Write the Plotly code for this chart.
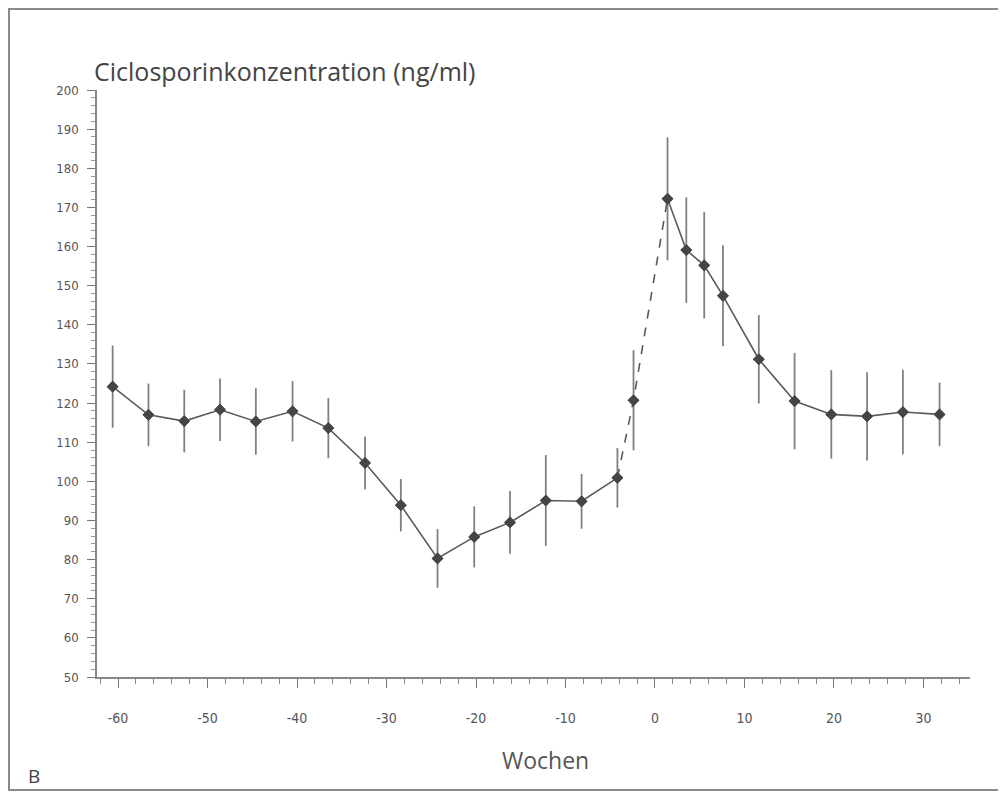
import plotly.graph_objects as go

weeks = [-60.6, -56.6, -52.6, -48.6, -44.6, -40.5, -36.5, -32.4, -28.4, -24.3, -20.2,
         -16.2, -12.2, -8.2, -4.2, -2.4, 1.4, 3.5, 5.5, 7.6, 11.6, 15.6, 19.7, 23.7, 27.7, 31.8]
conc = [124.2, 117.0, 115.4, 118.3, 115.3, 117.9, 113.6, 104.7, 93.9, 80.3, 85.8,
        89.5, 95.1, 94.9, 100.9, 120.7, 172.2, 159.1, 155.2, 147.4, 131.2, 120.5, 117.1, 116.6, 117.7, 117.1]
err = [10.5, 8.0, 8.0, 8.0, 8.5, 7.7, 7.7, 6.7, 6.7, 7.5, 7.8,
       8.0, 11.6, 7.0, 7.6, 12.8, 15.7, 13.5, 13.6, 12.9, 11.3, 12.3, 11.3, 11.3, 10.8, 8.1]
x_ticks = [-60, -50, -40, -30, -20, -10, 0, 10, 20, 30]
x_tick_labels = ["-60", "-50", "-40", "-30", "-20", "-10", "0", "10", "20", "30"]
y_ticks = list(range(50, 201, 10))

title_text = "Ciclosporinkonzentration (ng/ml)"
x_title = "Wochen"
panel = "B"

LINE = "#5a5a5a"
MARK = "#454545"
ERR = "#808080"
FONT = "Open Sans, Noto Sans, sans-serif"
TICKFONT = "DejaVu Sans Condensed, Liberation Sans Narrow, sans-serif"

fig = go.Figure()
fig.add_trace(go.Scatter(
    x=weeks, y=conc, mode="markers",
    marker=dict(symbol="diamond", size=9, color=MARK),
    error_y=dict(type="data", array=err, color=ERR, thickness=1.8, width=0),
    showlegend=False))
fig.add_trace(go.Scatter(x=weeks[:15], y=conc[:15], mode="lines",
                         line=dict(color=LINE, width=1.6), showlegend=False))
fig.add_trace(go.Scatter(x=weeks[14:17], y=conc[14:17], mode="lines",
                         line=dict(color=LINE, width=1.6, dash="dash"), showlegend=False))
fig.add_trace(go.Scatter(x=weeks[16:], y=conc[16:], mode="lines",
                         line=dict(color=LINE, width=1.6), showlegend=False))
fig.add_trace(go.Scatter(x=weeks, y=conc, mode="markers",
                         marker=dict(symbol="diamond", size=9, color=MARK),
                         showlegend=False))

# plot area in figure px: left 89, width 873; top 82, height 587
L, W, T, H = 89, 873, 82, 587
def px(xf):
    return (xf - L) / W
def py(yf):
    return (T + H - yf) / H

fig.update_layout(
    width=1006, height=797,
    margin=dict(l=L, r=1006 - L - W, t=T, b=797 - T - H),
    paper_bgcolor="white", plot_bgcolor="white",
    font=dict(family=FONT, color="#555"),
    xaxis=dict(range=[-62.35, 35.2], tickvals=x_ticks, ticktext=x_tick_labels,
               ticks="outside", ticklen=9,
               tickcolor="#777", tickwidth=1.2, showline=True, linecolor="#888", linewidth=1.5,
               showgrid=False, zeroline=False, ticklabelstandoff=18,
               tickfont=dict(size=14, color="#555", family=TICKFONT),
               minor=dict(dtick=2, tick0=0, ticks="outside", ticklen=5, tickcolor="#888", tickwidth=1.2)),
    yaxis=dict(range=[50, 200], tickvals=y_ticks, ticks="outside", ticklen=8,
               tickcolor="#777", tickwidth=1.2, showline=True, linecolor="#888", linewidth=1.5,
               showgrid=False, zeroline=False, ticklabelstandoff=6,
               tickfont=dict(size=13, color="#555", family=TICKFONT),
               minor=dict(dtick=2, tick0=0, ticks="outside", ticklen=4, tickcolor="#999", tickwidth=1)),
    shapes=[dict(type="rect", xref="paper", yref="paper",
                 x0=px(1), x1=px(995), y0=py(782), y1=py(1),
                 line=dict(color="#8a8a8a", width=2))],
    annotations=[
        dict(text=title_text, xref="paper", yref="paper", x=px(84), y=py(63),
             xanchor="left", yanchor="middle", showarrow=False,
             font=dict(size=25, color="#444", family=FONT)),
        dict(text=x_title, xref="paper", yref="paper", x=px(537), y=py(752),
             xanchor="center", yanchor="middle", showarrow=False,
             font=dict(size=23, color="#555", family=FONT)),
        dict(text=panel, xref="paper", yref="paper", x=px(18), y=py(768),
             xanchor="left", yanchor="middle", showarrow=False,
             font=dict(size=19, color="#444", family=FONT)),
    ],
)

fig.write_html("out.html")
